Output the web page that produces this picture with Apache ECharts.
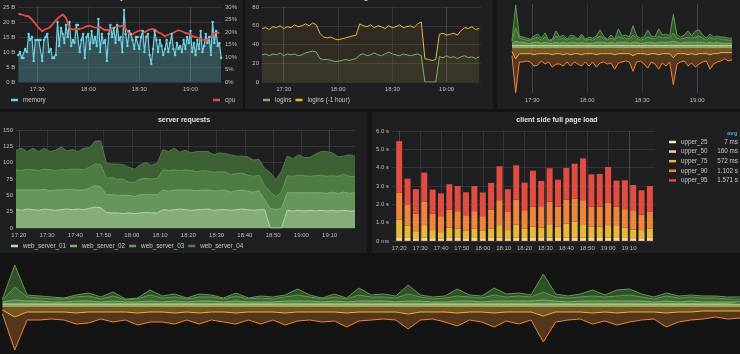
<!DOCTYPE html>
<html>
<head>
<meta charset="utf-8">
<script src="https://cdn.jsdelivr.net/npm/echarts@6.0.0/dist/echarts.min.js"></script>
<style>
  html, body { margin: 0; padding: 0; background: #141414; }
  #wrap { position: relative; width: 740px; height: 354px; overflow: hidden; background: #141414; }
  .panel { position: absolute; background: #1f1f21; }
  #chart { position: absolute; left: 0; top: 0; width: 740px; height: 354px; }
</style>
</head>
<body>
<div id="wrap">
  <div class="panel" style="left:0;top:0;width:243px;height:109px"></div>
  <div class="panel" style="left:245px;top:0;width:248px;height:109px"></div>
  <div class="panel" style="left:497px;top:0;width:243px;height:109px"></div>
  <div class="panel" style="left:0;top:112px;width:367px;height:141px"></div>
  <div class="panel" style="left:372px;top:112px;width:368px;height:141px"></div>
  <div id="chart"></div>
</div>
<script>
// time helpers (local time, so labels read 17:30 etc.)
const MIN = 60000
const T = (h, m) => new Date(2017, 2, 14, h, 0).getTime() + m * MIN
const hm = s => T(+s.split(':')[0], +s.split(':')[1])

// tick labels
const halfHourTicks = ['17:30', '18:00', '18:30', '19:00']
const tenMinTicks = ['17:20', '17:30', '17:40', '17:50', '18:00', '18:10', '18:20', '18:30', '18:40', '18:50', '19:00', '19:10']

// memory / cpu (1 min / 2 min from 17:19)
const memory = [9,10,8,8,11,10,16,14,15,7,
  14,14,14,14,7,14,15,16,10,11,
  8,8,9,20,12,18,16,13,19,15,
  20,12,14,13,19,19,10,14,16,8,
  15,16,11,17,13,15,12,21,10,16,
  13,14,7,16,19,15,18,13,19,14,
  15,10,24,16,12,17,16,14,11,15,
  15,11,15,17,10,15,16,9,6,11,
  17,14,10,14,12,9,11,14,10,13,
  16,11,9,13,11,12,10,14,11,15,
  13,17,10,13,9,14,11,17,10,12,
  16,13,15,9,20,13,17,12,13,8]
const cpu = [27.3,27,26.5,26.3,25,23.3,21.6,20.3,21.2,21.6,
  23,24.7,26,27,25.6,21.6,21,21.2,21.2,21.6,
  22.3,22.5,22,21.6,22,21,20.7,21.2,21.6,22.3,
  22.3,22.5,20.3,18.5,19.6,20.3,20.7,19.9,20.7,21.2,
  21,19.9,19.3,18.3,18.9,19.3,20.1,20.7,20.3,19.6,
  19.3,18.3,18,17.6,17,16.3,17.6,18.9,19.9,19.6]

// logins (2 min from 17:18)
const logins = [29,30,28,30,29,31,28,30,29,30,28,29,31,32,33,32,
  25,24,24,23,22,22,23,24,23,24,25,
  29,30,28,29,31,29,28,30,32,30,29,28,30,29,28,29,30,28,
  0,0,0,0,
  27,26,28,26,27,25,27,28,26,27,25,27]
const loginsPrev = [57,58,56,59,58,60,57,59,58,61,59,60,62,60,63,61,
  52,48,47,48,46,45,46,47,48,49,50,
  62,60,59,61,58,60,59,57,60,58,59,61,58,59,60,58,62,64,
  25,24,23,24,
  51,52,50,51,52,50,55,58,57,59,56,57]

// mirrored stack (2 min from 17:19), used top right and bottom
const pos1 = [3,3,3,3,3,3,3,3,3,3,3,3,3,3,3,3,3,3,3,3,3,3,3,3,3,3,3,3,3,3,
  3,3,3,3,3,3,3,3,3,3,3,3,3,3,3,3,3,3,3,3,3,3,3,3,3,3,3,3,3,3,3]
const pos2 = [2,4,3,3,2,2,3,3,2,3, 2,2,3,2,3,2,3,3,2,3, 2,2,2,3,3,3,2,3,2,3,
  3,3,2,3,3,2,2,3,3,2, 3,3,3,3,4,3,2,3,3,3, 3,3,3,2,3,2,3,2,2,2,2]
const pos3 = [2,13,4,3,3,3,4,5,3,5, 2,3,6,4,4,3,4,4,3,5, 3,4,3,4,6,4,3,4,3,6,
  4,4,4,7,4,3,4,5,4,4, 6,4,5,4,8,4,4,4,5,4, 5,6,4,3,5,4,4,4,4,3,3]
const pos4 = [1,22,2,2,2,1,2,3,2,4, 1,1,5,2,3,1,3,2,1,3, 1,2,2,2,6,2,1,3,1,7,
  2,3,2,9,2,2,2,7,2,2, 7,3,3,2,18,3,2,3,6,2, 6,6,3,2,3,2,2,2,2,2,2]
const neg1 = [-3,-10,-5,-5,-5,-5,-6,-5,-5,-5, -5,-6,-5,-5,-6,-5,-6,-5,-5,-6,
  -5,-5,-5,-6,-5,-5,-5,-5,-6,-5, -5,-5,-5,-7,-5,-5,-5,-6,-5,-5,
  -6,-5,-5,-5,-9,-5,-5,-5,-6,-5, -6,-5,-5,-5,-6,-5,-5,-4,-4,-4,-4]
const neg2 = [-4,-33,-8,-8,-7,-8,-11,-11,-7,-10, -8,-12,-10,-10,-11,-8,-11,-8,-10,-11,
  -8,-12,-8,-12,-9,-8,-10,-9,-14,-9, -8,-7,-8,-15,-8,-7,-10,-13,-8,-10,
  -14,-9,-12,-8,-26,-10,-8,-7,-11,-9, -12,-10,-8,-7,-14,-10,-8,-8,-6,-8,-7]

// server requests (2 min from 17:19)
const wsNames = ['web_server_01', 'web_server_02', 'web_server_03', 'web_server_04']
const ws01 = [28,27,29,28,27,29,28,27,28,29,28,29,28,30,32,31,
  24,23,23,22,23,22,23,24,23,23,
  28,27,28,29,28,27,28,28,29,27,28,28,27,28,29,28,27,28,28,
  0,0,0,
  27,26,27,26,27,26,27,26,27,26,27,26,26]
const ws02 = [30,31,29,30,31,30,29,31,30,30,31,29,30,31,33,32,
  27,28,27,28,27,26,28,27,28,28,
  30,29,30,29,30,31,29,30,29,30,29,30,28,29,29,28,28,29,15,
  30,28,30,
  27,28,27,28,27,28,27,27,28,27,28,27,28]
const ws03 = [31,30,32,31,30,31,32,30,31,30,31,32,31,32,33,34,
  25,26,24,25,20,22,24,25,24,25,
  31,32,31,30,31,30,29,30,29,28,29,28,27,26,26,25,24,24,22,
  25,20,25,
  26,25,27,26,25,26,27,26,25,26,27,26,25]
const ws04 = [30,34,27,33,29,32,28,31,35,29,30,27,33,30,35,36,
  23,21,24,22,23,20,22,24,21,23,
  31,29,33,28,30,27,31,29,30,27,29,28,30,27,26,28,25,24,26,
  30,26,32,
  30,27,31,28,29,33,36,38,35,30,28,33,31]

// client side full page load, seconds (4 min from 17:20)
const loadNames = ['upper_25', 'upper_50', 'upper_75', 'upper_90', 'upper_95']
const loadAvg = ['7 ms', '160 ms', '572 ms', '1.102 s', '1.571 s']
const u25 = [0.007,0.007,0.006,0.007,0.006,0.006,0.007,0.007,0.006,0.007,0.006,0.007,0.008,0.006,0.008,
  0.007,0.007,0.007,0.008,0.007,0.008,0.008,0.008,0.007,0.007,0.007,0.007,0.007,0.006,0.006,0.007]
const u50 = [0.2,0.16,0.15,0.17,0.15,0.14,0.16,0.16,0.15,0.16,0.15,0.16,0.17,0.15,0.18,
  0.16,0.16,0.16,0.18,0.16,0.18,0.19,0.18,0.16,0.16,0.17,0.16,0.16,0.15,0.15,0.16]
const u75 = [0.97,0.66,0.38,0.69,0.44,0.34,0.57,0.52,0.4,0.5,0.4,0.52,0.69,0.44,0.71,
  0.52,0.61,0.57,0.73,0.61,0.77,0.85,0.73,0.61,0.61,0.69,0.65,0.57,0.47,0.44,0.52]
const u90 = [1.45,1.17,0.96,1.27,0.9,0.87,0.98,0.94,0.85,0.96,0.8,1.03,1.36,0.99,1.36,
  0.99,1.09,1.16,1.22,1.09,1.3,1.27,1.31,1.09,1.09,1.21,1.05,1.0,1.05,0.85,0.9]
const u95 = [2.82,1.4,1.33,1.59,1.31,1.24,1.38,1.37,1.25,1.37,1.29,1.45,1.85,1.24,1.87,
  1.51,1.97,1.38,1.83,1.48,1.73,1.9,2.28,1.77,1.79,1.96,1.43,1.58,1.38,1.32,1.41]

const ts = (arr, start, step) => arr.map((v, i) => [start + i * step, v])

const font = 'Liberation Sans, Arial, sans-serif'
const axisText = '#bdbdbd'
const legendText = '#c8c8c8'
const splitLine = { show: true, lineStyle: { color: 'rgba(255,255,255,0.09)', width: 1 } }

// time axis with fixed tick positions
const timeAxis = (grid, min, max, ticks, extra) => {
  const values = ticks.map(hm)
  return Object.assign({
    type: 'time', gridIndex: grid, min, max,
    axisLine: { show: false },
    axisTick: { show: false, customValues: values },
    splitLine,
    axisLabel: {
      color: axisText, fontSize: 6, fontFamily: font, margin: 4,
      customValues: values, formatter: '{HH}:{mm}', hideOverlap: false
    }
  }, extra)
}

const valueAxis = (grid, min, max, interval, fmt, extra) => Object.assign({
  type: 'value', gridIndex: grid, min, max, interval,
  axisLine: { show: false }, axisTick: { show: false },
  splitLine,
  axisLabel: { color: axisText, fontSize: 6, fontFamily: font, margin: 3, formatter: fmt }
}, extra)

const titleStyle = { color: '#e2e2e2', fontSize: 7, fontWeight: 'bold', fontFamily: font }
const legendBase = {
  icon: 'rect', itemWidth: 7, itemHeight: 2.5, itemGap: 4, padding: 0,
  textStyle: { color: legendText, fontSize: 6.3, fontFamily: font }
}

const area = (name, x, y, color, fill, data, stack) => ({
  name, type: 'line', xAxisIndex: x, yAxisIndex: y, stack,
  data, showSymbol: false, color,
  lineStyle: { width: 1, color }, areaStyle: { color: fill, opacity: 1 }
})

// mirrored stack series for a given axis pair
const mirror = (x, y, stack) => [
  area('a', x, y, '#c9dc8a', 'rgba(190,215,130,0.75)', ts(pos1, T(17, 19), 2 * MIN), stack),
  area('b', x, y, '#7eb26d', 'rgba(110,170,90,0.75)', ts(pos2, T(17, 19), 2 * MIN), stack),
  area('c', x, y, '#629e51', 'rgba(80,140,65,0.7)', ts(pos3, T(17, 19), 2 * MIN), stack),
  area('d', x, y, '#5f9a4e', 'rgba(58,100,46,0.75)', ts(pos4, T(17, 19), 2 * MIN), stack),
  area('e', x, y, '#eab839', 'rgba(150,105,40,0.75)', ts(neg1, T(17, 19), 2 * MIN), stack),
  area('f', x, y, '#ef843c', 'rgba(100,62,30,0.8)', ts(neg2, T(17, 19), 2 * MIN), stack)
]

const option = {
  animation: false,
  backgroundColor: 'transparent',
  title: [
    { text: 'Memory / CPU', left: 121, top: -6, textAlign: 'center', padding: 0, textStyle: titleStyle },
    { text: 'logins', left: 368, top: -6, textAlign: 'center', padding: 0, textStyle: titleStyle },
    { text: 'server requests', left: 184, top: 117, textAlign: 'center', padding: 0, textStyle: titleStyle },
    { text: 'client side full page load', left: 557, top: 117, textAlign: 'center', padding: 0, textStyle: titleStyle },
    { text: 'avg', left: 727, top: 130, padding: 0, textStyle: { color: '#33b5e5', fontSize: 6, fontFamily: font } }
  ],
  grid: [
    { left: 16, top: 7, width: 206, height: 75 },
    { left: 262, top: 7, width: 219, height: 75 },
    { left: 512, top: 4, width: 220, height: 89 },
    { left: 13, top: 130, width: 342, height: 98 },
    { left: 392, top: 131, width: 263, height: 110 },
    { left: 0, top: 256, width: 740, height: 98 }
  ],
  xAxis: [
    timeAxis(0, T(17, 19), T(19, 18.5), halfHourTicks),
    timeAxis(1, T(17, 18), T(19, 19), halfHourTicks),
    timeAxis(2, T(17, 19), T(19, 19), halfHourTicks),
    timeAxis(3, T(17, 19), T(19, 19), tenMinTicks),
    timeAxis(4, T(17, 18), T(19, 21), tenMinTicks),
    timeAxis(5, T(17, 18.6), T(19, 19), halfHourTicks, { show: false })
  ],
  yAxis: [
    valueAxis(0, 0, 25, 5, '{value} B'),
    valueAxis(0, 0, 30, 5, '{value}%', { position: 'right', splitLine: { show: false } }),
    valueAxis(1, 0, 80, 20, '{value}'),
    valueAxis(2, -43, 43, 43, '{value}', { show: false }),
    valueAxis(3, 0, 150, 25, '{value}'),
    valueAxis(4, 0, 6, 1, v => v === 0 ? '0 ms' : v.toFixed(1) + ' s'),
    valueAxis(5, -47, 51, 49, '{value}', { show: false })
  ],
  legend: [
    Object.assign({}, legendBase, { left: 11, top: 97, data: ['memory'] }),
    Object.assign({}, legendBase, { left: 213, top: 97, data: ['cpu'] }),
    Object.assign({}, legendBase, { left: 263, top: 97, data: ['logins', 'logins (-1 hour)'] }),
    Object.assign({}, legendBase, { left: 11, top: 243, data: wsNames }),
    Object.assign({}, legendBase, {
      left: 669, top: 139, orient: 'vertical', itemGap: 3.6, data: loadNames,
      formatter: name => `{n|${name}}{v|${loadAvg[loadNames.indexOf(name)]}}`,
      textStyle: {
        color: legendText, fontSize: 6.3, fontFamily: font,
        rich: {
          n: { width: 32, color: legendText, fontSize: 6.3, fontFamily: font },
          v: { width: 25, align: 'right', color: legendText, fontSize: 6.3, fontFamily: font }
        }
      }
    })
  ],
  series: [
    {
      name: 'memory', type: 'line', xAxisIndex: 0, yAxisIndex: 0,
      data: ts(memory, T(17, 19), MIN), color: '#6ed0e0',
      symbol: 'circle', symbolSize: 2.5, showSymbol: true,
      lineStyle: { width: 1.2 }, areaStyle: { color: 'rgba(110,208,224,0.4)' }
    },
    {
      name: 'cpu', type: 'line', xAxisIndex: 0, yAxisIndex: 1,
      data: ts(cpu, T(17, 19), 2 * MIN), color: '#e24d42',
      showSymbol: false, lineStyle: { width: 1.8 }
    },
    {
      name: 'logins', type: 'line', xAxisIndex: 1, yAxisIndex: 2,
      data: ts(logins, T(17, 18), 2 * MIN), color: '#7eb26d',
      showSymbol: false, lineStyle: { width: 1 }, areaStyle: { color: 'rgba(126,178,109,0.12)' }
    },
    {
      name: 'logins (-1 hour)', type: 'line', xAxisIndex: 1, yAxisIndex: 2,
      data: ts(loginsPrev, T(17, 18), 2 * MIN), color: '#eab839',
      showSymbol: false, lineStyle: { width: 1 }, areaStyle: { color: 'rgba(234,184,57,0.12)' }
    },
    ...mirror(2, 3, 'top'),
    area(wsNames[0], 3, 4, '#b7dbab', '#86ad79', ts(ws01, T(17, 19), 2 * MIN), 'req'),
    area(wsNames[1], 3, 4, '#7eb26d', '#66965a', ts(ws02, T(17, 19), 2 * MIN), 'req'),
    area(wsNames[2], 3, 4, '#629e51', '#4e7c43', ts(ws03, T(17, 19), 2 * MIN), 'req'),
    area(wsNames[3], 3, 4, '#4f7d42', '#3d6135', ts(ws04, T(17, 19), 2 * MIN), 'req'),
    ...[u25, u50, u75, u90, u95].map((arr, k) => ({
      name: loadNames[k], type: 'bar', xAxisIndex: 4, yAxisIndex: 5, stack: 'load',
      barWidth: 6, data: ts(arr, T(17, 20), 4 * MIN),
      color: ['#fceaca', '#f4d598', '#eab839', '#ef843c', '#e24d42'][k]
    })),
    ...mirror(5, 6, 'bottom')
  ]
}

const chart = echarts.init(document.getElementById('chart'), null, { renderer: 'canvas' })
chart.setOption(option)
</script>
</body>
</html>
